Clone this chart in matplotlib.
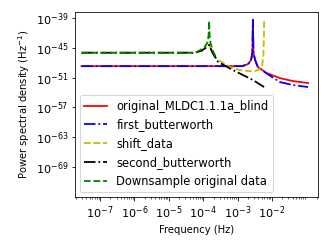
#!/usr/bin/env python

import numpy as np
import matplotlib
matplotlib.use('Agg')
import matplotlib.pyplot as plt
from matplotlib.ticker import NullLocator

# values, stored as log10(frequency) and log10(psd)
red_logf = [-7.54, -3.08, -2.87, -2.70, -2.61, -2.57, -2.555, -2.54, -2.49, -2.41, -2.15, -1.77, -1.39, -0.95]
red_logp = [-48.7, -48.7, -48.7, -48.3, -47.5, -46.0, -39.4, -46.0, -47.5, -48.9, -50.1, -51.1, -51.7, -52.1]

blue_logf = [-7.54, -3.08, -2.87, -2.70, -2.61, -2.57, -2.555, -2.54, -2.49, -2.41, -2.15, -1.77, -1.39, -0.95]
blue_logp = [-48.7, -48.7, -48.7, -48.3, -47.5, -46.0, -39.4, -46.0, -47.5, -48.9, -50.2, -51.9, -52.5, -52.9]

yellow_logf = [-7.54, -4.24, -4.09, -3.95, -3.87, -3.74, -3.60, -3.42, -3.20, -2.93, -2.64, -2.49, -2.35, -2.29, -2.25, -2.235, -2.23]
yellow_logp = [-46.0, -46.0, -45.5, -44.8, -43.8, -45.8, -47.3, -48.05, -48.9, -49.5, -49.7, -49.7, -49.3, -48.7, -46.5, -43.0, -39.4]

black_logf = [-7.54, -4.24, -4.05, -3.90, -3.83, -3.74, -3.57, -3.13, -2.84, -2.55, -2.23]
black_logp = [-46.0, -46.0, -45.6, -44.9, -44.4, -45.9, -47.85, -49.5, -50.5, -51.5, -52.9]

green_logf = [-7.54, -4.24, -4.09, -3.95, -3.87, -3.845, -3.83, -3.815, -3.79, -3.71, -3.62]
green_logp = [-46.0, -46.0, -45.5, -44.8, -43.8, -42.5, -39.6, -42.5, -44.0, -45.8, -47.0]

series = [
    ('original_MLDC1.1.1a_blind', red_logf, red_logp, 'r', '-'),
    ('first_butterworth', blue_logf, blue_logp, 'b', '-.'),
    ('shift_data', yellow_logf, yellow_logp, 'y', '--'),
    ('second_butterworth', black_logf, black_logp, 'k', '-.'),
    ('Downsample original data', green_logf, green_logp, 'g', '--'),
]

xtick_exp = [-7, -6, -5, -4, -3, -2]
ytick_exp = [-69, -63, -57, -51, -45, -39]

#---------------------------------------------------------------------------------------------------
# plot
#---------------------------------------------------------------------------------------------------
fig = plt.figure(figsize=(332/72., 249/72.), dpi=72)
ax = fig.add_axes([0.226, 0.209, 0.732, 0.743])

for label, lf, lp, col, ls in series:
    ax.plot(10.0**np.array(lf), 10.0**np.array(lp), color=col, linestyle=ls, linewidth=1.8, label=label)

ax.set_xscale('log')
ax.set_yscale('log')
ax.set_xlim(10**-7.73, 10**-0.66)
ax.set_ylim(10.0**-75.0, 10.0**-37.8)

ax.set_xticks([10.0**e for e in xtick_exp])
ax.set_yticks([10.0**e for e in ytick_exp])
ax.yaxis.set_minor_locator(NullLocator())
ax.tick_params(axis='both', which='major', labelsize=11.3)

ax.set_xlabel('Frequency (Hz)')
ax.set_ylabel('Power spectral density (Hz$^{-1}$)')

ax.legend(loc='lower left', fontsize=11.5, borderaxespad=0.4)

fig.savefig('out.png', dpi=72)
